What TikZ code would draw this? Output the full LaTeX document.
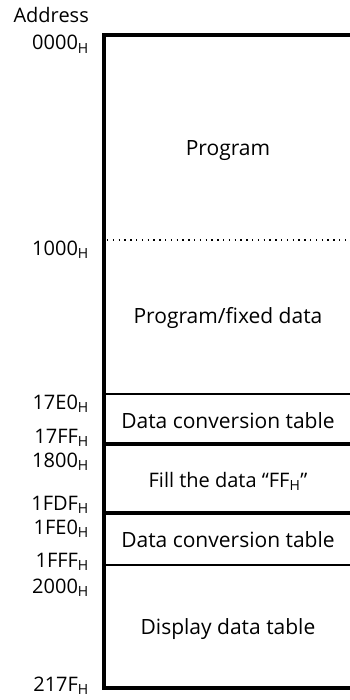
\documentclass[tikz,border=0pt]{standalone}
\usepackage{fontspec}
\setmainfont{Open Sans}
\newcommand\hx[1]{#1\textsubscript{H}}
\begin{document}
\begin{tikzpicture}[x=1pt,y=-1pt,
  addr/.style={anchor=base east, inner sep=0pt, font=\fontsize{20}{24}\selectfont},
  region/.style={inner sep=0pt, font=\fontsize{21}{25}\selectfont},
  heavy/.style={line width=4pt, line join=miter},
  light/.style={line width=1.5pt},
  dotline/.style={line width=1.3pt, dash pattern=on 1.3pt off 4.5pt}]
\useasboundingbox (0,0) rectangle (350,700);

% boundaries of the memory regions
\coordinate (top) at (104,35);
\coordinate (topR) at (350,35);
\coordinate (b1000) at (107,240);
\coordinate (b1000R) at (350,240);
\coordinate (b17E0) at (104,394);
\coordinate (b17E0R) at (350,394);
\coordinate (b1800) at (104,444);
\coordinate (b1800R) at (350,444);
\coordinate (b1FE0) at (104,513);
\coordinate (b1FE0R) at (350,513);
\coordinate (b2000) at (104,565);
\coordinate (b2000R) at (350,565);
\coordinate (bot) at (104,688);
\coordinate (botR) at (350,688);

% outline of the map
\draw[heavy] (topR) -- (top) -- (bot) -- (botR);
\draw[dotline] (b1000) -- (b1000R);
\draw[light] (b17E0) -- (b17E0R);
\draw[heavy] (b1800) -- (b1800R);
\draw[heavy] (b1FE0) -- (b1FE0R);
\draw[light] (b2000) -- (b2000R);

% address column
\node[addr] (hdr) at (89,23) {Address};
\node[addr] (a0000) at (89,50) {\hx{0000}};
\node[addr] (a1000) at (89,255) {\hx{1000}};
\node[addr] (a17E0) at (89,409) {\hx{17E0}};
\node[addr] (a17FF) at (89,443) {\hx{17FF}};
\node[addr] (a1800) at (89,467) {\hx{1800}};
\node[addr] (a1FDF) at (89,510) {\hx{1FDF}};
\node[addr] (a1FE0) at (89,534) {\hx{1FE0}};
\node[addr] (a1FFF) at (89,567) {\hx{1FFF}};
\node[addr] (a2000) at (89,593) {\hx{2000}};
\node[addr] (a217F) at (89,691) {\hx{217F}};

% region contents
\node[region] (prog) at (228,151) {Program};
\node[region] (fixed) at (228,318) {Program/fixed data};
\node[region] (conv1) at (228,421) {Data conversion table};
\node[region, font=\fontsize{20}{24}\selectfont] (fill) at (228,481) {Fill the data “\hx{FF}”};
\node[region] (conv2) at (228,540) {Data conversion table};
\node[region] (disp) at (228,629) {Display data table};
\end{tikzpicture}
\end{document}
